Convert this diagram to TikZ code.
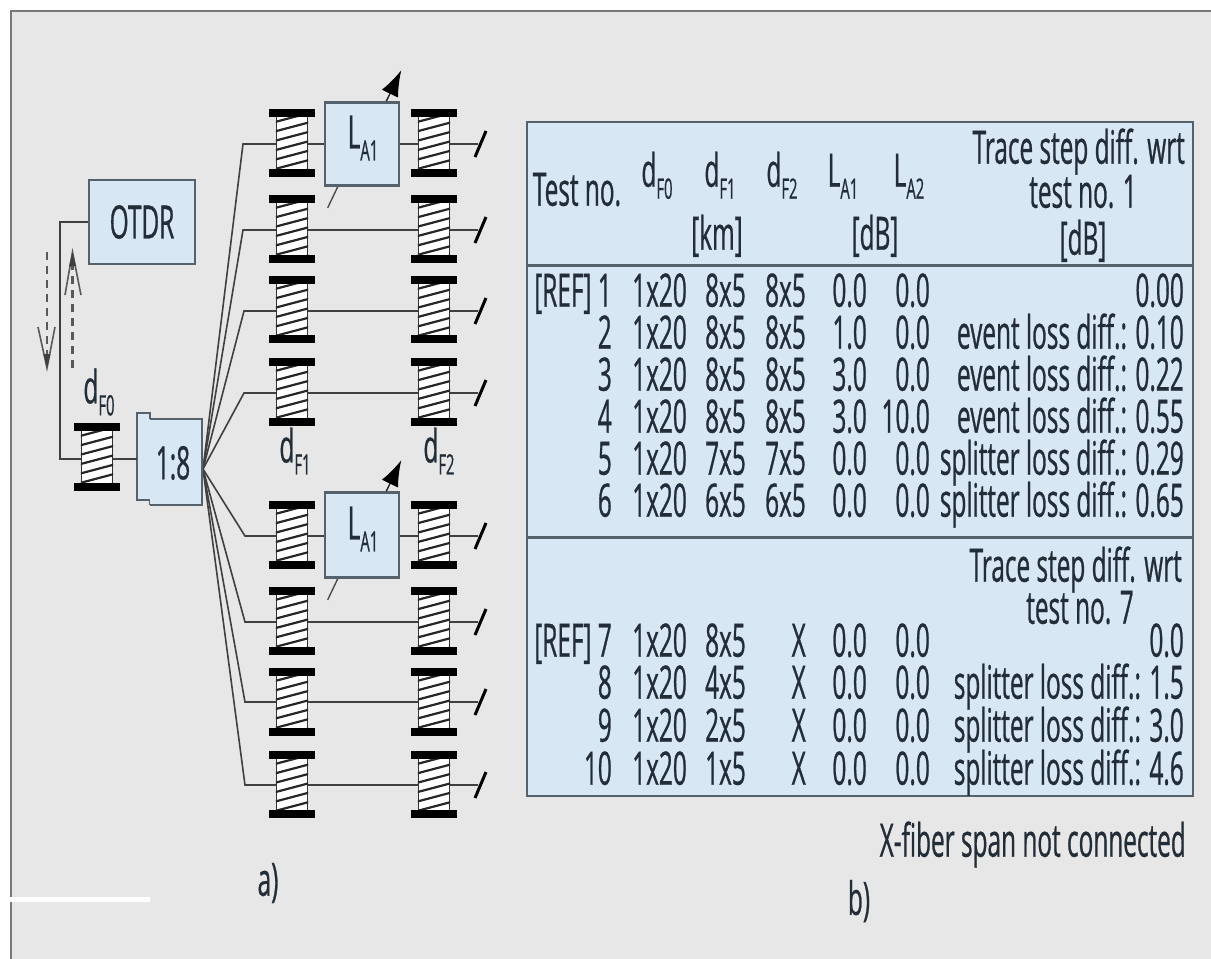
\documentclass[tikz,border=0pt]{standalone}
\usepackage{fontspec}
\setmainfont[FakeStretch=0.53,FakeBold=0.6]{Open Sans}
\usetikzlibrary{arrows.meta}
\definecolor{panel}{HTML}{E7E7E7}
\definecolor{cell}{HTML}{D7E7F3}
\definecolor{ink}{HTML}{222D37}
\definecolor{edge}{HTML}{55626C}
\pgfdeclarelayer{bg}\pgfdeclarelayer{conn}
\pgfsetlayers{bg,conn,main}
\newcommand{\subs}[1]{\raisebox{-12pt}{\fontsize{28}{28}\selectfont #1}}
\tikzset{
  txt/.style={text=ink,inner sep=0pt,font=\fontsize{46}{46}\selectfont},
  rt/.style={txt,anchor=mid east,yshift=-14pt},
  ct/.style={txt,anchor=mid,yshift=-14pt},
  unit/.style={draw=edge,line width=2.6pt,fill=cell,inner sep=0pt},
  fiber/.style={draw=black!75,line width=1.6pt,line join=miter},
  slash/.style={draw=black,line width=3pt},
  rule/.style={draw=edge,line width=3pt},
  spoolbody/.style={draw=black!80,line width=1.4pt,fill=white,inner sep=0pt,minimum width=31pt},
  fl/.style={draw=black!65,line width=2.6pt,dash pattern=on 8pt off 6pt},
  vh/.style={draw=black!65,line width=1.6pt},
}
% name, centre x, top bar y, bottom bar y
\newcommand{\spool}[4]{%
  \pgfmathsetmacro{\mymid}{(#3+#4)/2}%
  \pgfmathsetmacro{\myh}{#4-#3}%
  \node[spoolbody,minimum height=\myh pt] (#1) at (#2,\mymid) {};
  \begin{scope}
    \clip (#1.south west) rectangle (#1.north east);
    \foreach \k in {-1,...,6}{
      \draw[black!85,line width=2.2pt] (#2-17,#3+9+\k*9.4) -- (#2+17,#3+9+\k*9.4-9);
    }
  \end{scope}
  \fill[black] (#2-23,#3-3.6) rectangle (#2+23,#3+3.6);
  \fill[black] (#2-23,#4-3.6) rectangle (#2+23,#4+3.6);
}
% y, id, num, d0, d1, d2, la1, la2, last
\newcommand{\trow}[9]{%
  \node[rt] (n#2) at (612,#1) {#3};
  \node[rt] (a#2) at (687,#1) {#4};
  \node[rt] (b#2) at (746,#1) {#5};
  \node[rt] (c#2) at (806,#1) {#6};
  \node[rt] (e#2) at (867,#1) {#7};
  \node[rt] (f#2) at (930,#1) {#8};
  \node[rt] (g#2) at (1184,#1) {#9};
}
% fibre row: id, y, corner x
\newcommand{\frow}[3]{%
  \coordinate (k#1) at (#3,#2);
  \coordinate (t#1) at (478,#2);
  \begin{pgfonlayer}{conn}
    \draw[fiber] (fan) -- (k#1) -- (t#1);
    \draw[slash] ([shift={(-3,13)}]t#1) -- ([shift={(8,-13)}]t#1);
  \end{pgfonlayer}
}
\begin{document}
\begin{tikzpicture}[x=1pt,y=-1pt]
\useasboundingbox (0,0) rectangle (1211,959);
\begin{pgfonlayer}{bg}
  \fill[white] (0,0) rectangle (1211,959);
  \fill[panel] (11,11) rectangle (1211,959);
  \draw[gray!95!black,line width=2.6pt] (11,959) -- (11,11) -- (1211,11);
  \fill[white] (0,896.5) rectangle (150,901.5);
  % table
  \fill[cell] (527,122) rectangle (1193,796);
\end{pgfonlayer}
\draw[rule,line width=2.4pt] (527,122) rectangle (1193,796);
\draw[rule] (527,265) -- (1193,265);
\draw[rule] (527,537) -- (1193,537);

% units
\node[unit,minimum width=106pt,minimum height=84pt] (otdr) at (142,222) {};
\node[txt] (otdrt) at (otdr.center) {OTDR};
\begin{pgfonlayer}{bg}
  \draw[draw=edge,line width=2.2pt,fill=cell] (150,419) -- (150,413) -- (137,413) -- (137,500) -- (150,500) -- (150,505);
\end{pgfonlayer}
\node[unit,draw=none,fill=cell,minimum width=52pt,minimum height=86pt] (splitfill) at (176,462) {};
\draw[draw=edge,line width=2.2pt] (150,419) -- (202,419) -- (202,505) -- (150,505);
\node[txt] (splitt) at (173,463) {1:8};
\coordinate (fan) at (203,469);

\spool{s0}{97}{427}{487}
\coordinate (j0) at (60,222);
\coordinate (j1) at (60,459);
\coordinate (j2) at (137,459);
\begin{pgfonlayer}{conn}
  \draw[fiber] (otdr.west) -- (j0) -- (j1) -- (s0.center |- j1) -- (j2);
\end{pgfonlayer}

% spools, upper bank
\spool{a1}{292}{113}{173}\spool{b1}{434}{113}{173}
\spool{a2}{292}{199}{259}\spool{b2}{434}{199}{259}
\spool{a3}{292}{280}{339}\spool{b3}{434}{280}{339}
\spool{a4}{292}{362}{422}\spool{b4}{434}{362}{422}
% lower bank
\spool{a5}{292}{505}{565}\spool{b5}{434}{505}{565}
\spool{a6}{292}{591}{651}\spool{b6}{434}{591}{651}
\spool{a7}{292}{672}{732}\spool{b7}{434}{672}{732}
\spool{a8}{292}{755}{814}\spool{b8}{434}{755}{814}

\frow{1}{144}{243}
\frow{2}{230}{243}
\frow{3}{311}{244}
\frow{4}{393}{244}
\frow{5}{536}{245}
\frow{6}{622}{245}
\frow{7}{702}{245}
\frow{8}{785}{245}

% amplifiers
\node[unit,minimum width=74pt,minimum height=83pt] (amp1) at (362,144) {};
\node[txt] (amp1t) at (363,138) {L\subs{A1}};
\node[unit,minimum width=74pt,minimum height=85pt] (amp2) at (362,535) {};
\node[txt] (amp2t) at (363,529) {L\subs{A1}};
\foreach \m in {amp1,amp2}{
  \draw[black!85,line width=1.4pt,-{Latex[length=26pt,width=18pt,black]}] ([xshift=-14pt]\m.north east) -- ([shift={(1,-31)}]\m.north east);
  \draw[black!70,line width=1.4pt] ([xshift=14pt]\m.south west) -- ([shift={(4,21)}]\m.south west);
}

% dashed direction arrows
\coordinate (dt) at (47,368);
\coordinate (ds) at (47,252);
\coordinate (ut) at (72.5,252);
\coordinate (us) at (72.5,368);
\draw[fl] (ds) -- ([yshift=8pt]dt);
\draw[fl] (us) -- ([yshift=-8pt]ut);
\draw[vh] (38,327) -- (dt) -- (55,327);
\draw[vh] (65,295) -- (ut) -- (81,295);
\fill[black!75] (dt) -- ++(-3.5,-14) -- ++(7,0) -- cycle;
\fill[black!75] (ut) -- ++(-3.5,14) -- ++(7,0) -- cycle;

% labels of diagram a
\node[txt] (lf0) at (99,392) {d\subs{F0}};
\node[txt] (lf1) at (295,451) {d\subs{F1}};
\node[txt] (lf2) at (439,451) {d\subs{F2}};
\node[txt] (la) at (268,883) {a)};
\node[txt] (lb) at (859,901) {b)};
\node[rt] (xnote) at (1186,840) {X-fiber span not connected};

% header
\node[ct] (h1) at (577,189) {Test no.};
\node[ct] (h2) at (657,170) {d\subs{F0}};
\node[ct] (h3) at (720,170) {d\subs{F1}};
\node[ct] (h4) at (782,170) {d\subs{F2}};
\node[ct] (h5) at (843,170) {L\subs{A1}};
\node[ct] (h6) at (909,170) {L\subs{A2}};
\node[ct] (h7) at (717,233) {[km]};
\node[ct] (h8) at (875,233) {[dB]};
\node[rt] (h9) at (1185,147) {Trace step diff. wrt};
\node[ct] (h10) at (1083,191) {test no. 1};
\node[ct] (h11) at (1083,238) {[dB]};

% rows
\trow{290}{1}{[REF] 1}{1x20}{8x5}{8x5}{0.0}{0.0}{0.00}
\trow{332}{2}{2}{1x20}{8x5}{8x5}{1.0}{0.0}{event loss diff.: 0.10}
\trow{374}{3}{3}{1x20}{8x5}{8x5}{3.0}{0.0}{event loss diff.: 0.22}
\trow{416}{4}{4}{1x20}{8x5}{8x5}{3.0}{10.0}{event loss diff.: 0.55}
\trow{458}{5}{5}{1x20}{7x5}{7x5}{0.0}{0.0}{splitter loss diff.: 0.29}
\trow{500}{6}{6}{1x20}{6x5}{6x5}{0.0}{0.0}{splitter loss diff.: 0.65}
\node[rt] (h12) at (1182,565) {Trace step diff. wrt};
\node[ct] (h13) at (1080,607) {test no. 7};
\trow{640}{7}{[REF] 7}{1x20}{8x5}{X\hspace{10pt}}{0.0}{0.0}{0.0}
\trow{682}{8}{8}{1x20}{4x5}{X\hspace{10pt}}{0.0}{0.0}{splitter loss diff.: 1.5}
\trow{725}{9}{9}{1x20}{2x5}{X\hspace{10pt}}{0.0}{0.0}{splitter loss diff.: 3.0}
\trow{768}{10}{10}{1x20}{1x5}{X\hspace{10pt}}{0.0}{0.0}{splitter loss diff.: 4.6}
\end{tikzpicture}
\end{document}
